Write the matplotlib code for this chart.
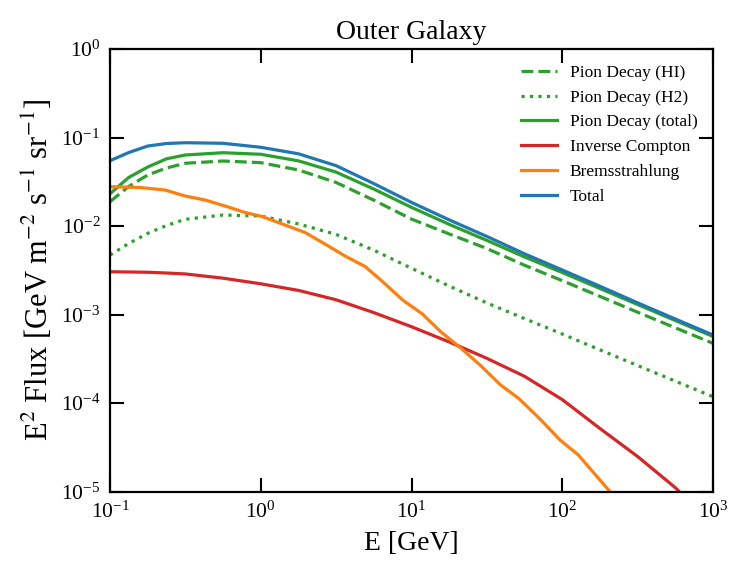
import matplotlib
matplotlib.use("Agg")
import matplotlib.pyplot as plt
from matplotlib.ticker import LogLocator, NullLocator

plt.rcParams['font.family'] = ['Liberation Serif', 'DejaVu Serif']
plt.rcParams['mathtext.fontset'] = 'stix'

# Energy grid (GeV) for the smooth components
E = [0.1, 0.133, 0.178, 0.237, 0.316, 0.562, 1.0, 1.78, 3.16, 5.62, 10.0,
     17.8, 31.6, 56.2, 100.0, 178.0, 316.0, 562.0, 1000.0]

pion_HI = [0.01885, 0.0280, 0.0378, 0.0453, 0.0512, 0.0543, 0.0520, 0.0430,
           0.0311, 0.0196, 0.01199, 0.00814, 0.00558, 0.00361, 0.00242,
           0.001606, 0.001065, 0.000710, 0.000474]
pion_H2 = [0.00471, 0.00636, 0.00829, 0.01015, 0.01193, 0.01334, 0.0130,
           0.01056, 0.00805, 0.00534, 0.00334, 0.00210, 0.001356, 0.000902,
           0.000604, 0.000400, 0.000266, 0.0001775, 0.0001183]
pion_total = [0.0232, 0.0354, 0.0465, 0.0575, 0.0635, 0.0674, 0.0647, 0.0545,
              0.0407, 0.02617, 0.01626, 0.01045, 0.00689, 0.00448, 0.00299,
              0.00197, 0.00130, 0.000858, 0.000566]
inverse_compton = [0.00305, 0.00303, 0.00301, 0.00295, 0.00288, 0.00258,
                   0.002229, 0.001877, 0.001471, 0.001054, 0.000730,
                   0.000491, 0.000321, 0.000201, 0.0001097, 5.17e-5, 2.50e-5,
                   1.112e-5, 4.2e-6]
total = [0.0547, 0.0677, 0.0802, 0.0856, 0.0874, 0.0861, 0.0776, 0.0655,
         0.0481, 0.0302, 0.0185, 0.01174, 0.00764, 0.00486, 0.00319,
         0.00209, 0.001360, 0.000892, 0.000589]

# Bremsstrahlung sampled at its own points
E_brems = [0.1, 0.158, 0.2316, 0.3144, 0.4268, 0.5793, 0.7861, 1.019, 1.449,
           1.966, 2.668, 3.622, 4.915, 6.471, 8.784, 11.74, 15.70, 20.66,
           28.48, 38.65, 51.28, 71.19, 96.6, 127.8, 207.4, 328.0]
bremsstrahlung = [0.02786, 0.02727, 0.02555, 0.02186, 0.01970, 0.01686,
                  0.01424, 0.01283, 0.01028, 0.00846, 0.00627, 0.00459,
                  0.00350, 0.002335, 0.001451, 0.001024, 0.000636, 0.000436,
                  0.000270, 0.0001625, 0.0001135, 6.62e-5, 3.84e-5, 2.60e-5,
                  1.0e-5, 4.2e-6]

fig = plt.figure(figsize=(7.47, 5.77), dpi=100)
ax = fig.add_axes([0.1473, 0.1478, 0.9545 - 0.1473, 0.9151 - 0.1478])

lw = 2.3
ax.plot(E, pion_HI, color='#2ca02c', ls='--', lw=lw, label='Pion Decay (HI)')
ax.plot(E, pion_H2, color='#2ca02c', ls=':', lw=lw, label='Pion Decay (H2)')
ax.plot(E, pion_total, color='#2ca02c', ls='-', lw=lw, label='Pion Decay (total)')
ax.plot(E, inverse_compton, color='#d62728', lw=lw, label='Inverse Compton')
ax.plot(E_brems, bremsstrahlung, color='#ff7f0e', lw=lw, label='Bremsstrahlung')
ax.plot(E, total, color='#1f77b4', lw=lw, label='Total')

ax.set_xscale('log')
ax.set_yscale('log')
ax.set_xlim(0.1, 1000)
ax.set_ylim(1e-5, 1)
ax.xaxis.set_major_locator(LogLocator(base=10, numticks=10))
ax.yaxis.set_major_locator(LogLocator(base=10, numticks=10))
ax.xaxis.set_minor_locator(NullLocator())
ax.yaxis.set_minor_locator(NullLocator())

ax.tick_params(which='major', direction='in', length=10, width=1.5,
               top=True, right=True, labelsize=15.5)
ax.tick_params(axis='y', pad=7)
ax.tick_params(axis='x', pad=7)
for s in ax.spines.values():
    s.set_linewidth(1.6)

ax.set_xlabel('E [GeV]', fontsize=20, labelpad=6)
ax.set_ylabel(r'E$^2$ Flux [GeV m$^{-2}$ s$^{-1}$ sr$^{-1}$]', fontsize=22, labelpad=4)
ax.set_title('Outer Galaxy', fontsize=20, pad=7)

ax.legend(loc='upper right', frameon=False, fontsize=12.5, handlelength=2.1,
          handletextpad=0.7, labelspacing=0.5)

fig.savefig('out.png', dpi=100)
